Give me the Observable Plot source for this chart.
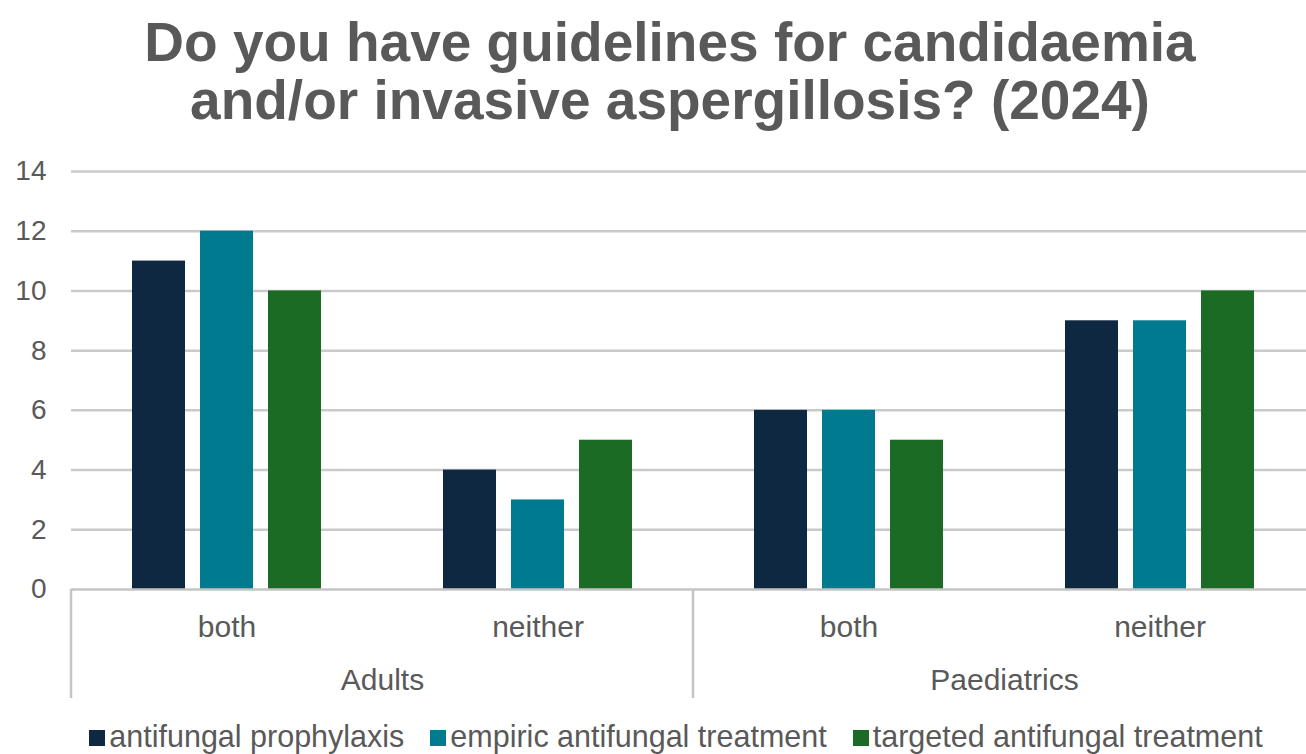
<!DOCTYPE html>
<html>
<head>
<meta charset="utf-8">
<script src="https://cdn.jsdelivr.net/npm/d3@7"></script>
<script src="https://cdn.jsdelivr.net/npm/@observablehq/plot@0.6"></script>
<style>
  html, body { margin: 0; padding: 0; background: #fff; overflow: hidden; width: 1306px; height: 754px; }
  body { font-family: "Liberation Sans", Arial, sans-serif; color: #595959; }
  #title { box-sizing: border-box; width: 1306px; height: 125px; padding-top: 13px; padding-left: 34px; font-weight: bold; font-size: 55px; line-height: 58px; text-align: center; color: #595959; white-space: nowrap; }
  #chart { width: 1306px; height: 587px; overflow: visible; }
  #chart svg { display: block; overflow: visible; max-width: none !important; }
  #legend { box-sizing: border-box; width: 1306px; padding-left: 46px; padding-top: 8px; display: flex; justify-content: center; font-size: 30.5px; line-height: 32px; white-space: nowrap; }
  .item { display: flex; align-items: center; margin: 0 13px; }
  .sw { width: 16px; height: 16px; margin-right: 4px; margin-top: 3px; }
</style>
</head>
<body>
<div id="title">Do you have guidelines for candidaemia<br>and/or invasive aspergillosis? (2024)</div>
<div id="chart"></div>
<div id="legend"></div>
<script>
const groups = ["Adults", "Paediatrics"];
const subcats = ["both", "neither"];
const series = ["antifungal prophylaxis", "empiric antifungal treatment", "targeted antifungal treatment"];
const colors = ["#0f2841", "#007a8f", "#1c6b24"];
// values in order: Adults-both, Adults-neither, Paediatrics-both, Paediatrics-neither
const prophylaxis = [11, 4, 6, 9];
const empiric = [12, 3, 6, 9];
const targeted = [10, 5, 5, 10];
const yTicks = [0, 2, 4, 6, 8, 10, 12, 14];

const seriesValues = [prophylaxis, empiric, targeted];
const cats = [];
groups.forEach(g => subcats.forEach(s => cats.push({group: g, sub: s, key: g + "|" + s})));
const keys = cats.map(c => c.key);
const rows = [];
cats.forEach((c, i) => series.forEach((s, j) => rows.push({key: c.key, series: s, value: seriesValues[j][i]})));
const groupLabels = groups.map(g => ({group: g, key: g + "|" + subcats[1]}));

const font = '"Liberation Sans", Arial, sans-serif';
const chart = Plot.plot({
  width: 1316,
  height: 587,
  marginLeft: 70,
  marginRight: 0,
  marginTop: 46,
  marginBottom: 123,
  style: {fontFamily: font, fontSize: "28px", color: "#595959", background: "#fff", overflow: "visible"},
  fx: {domain: keys, padding: 0, axis: null},
  x: {domain: series, paddingInner: 0.22, paddingOuter: 0.866, axis: null},
  y: {domain: [0, 14], ticks: yTicks, tickSize: 0, tickPadding: 25, label: null},
  color: {domain: series, range: colors},
  marks: [
    Plot.ruleY(yTicks.filter(d => d > 0), {stroke: "#cacaca", strokeWidth: 2.5}),
    Plot.barY(rows, {fx: "key", x: "series", y: "value", fill: "series"}),
    Plot.ruleY([0], {stroke: "#c4c4c4", strokeWidth: 2.5}),
    Plot.text(cats, {fx: "key", text: "sub", frameAnchor: "bottom", textAnchor: "middle", lineAnchor: "middle", dy: 38, fontSize: 30, fill: "#595959"}),
    Plot.text(groupLabels, {fx: "key", text: "group", frameAnchor: "bottom-left", textAnchor: "middle", lineAnchor: "middle", dy: 91, fontSize: 30, fill: "#595959"})
  ]
});

// category-axis separators, placed through the plot's own scales
const fxs = chart.scale("fx");
const ys = chart.scale("y");
const y0 = ys.apply(0);
const sepX = groups.map(g => fxs.apply(g + "|" + subcats[0]));
sepX.push(fxs.apply(keys[keys.length - 1]) + fxs.bandwidth);
const svg = d3.select(chart);
svg.style("max-width", "none");
svg.append("g").selectAll("line").data(sepX).join("line")
  .attr("x1", d => d).attr("x2", d => d)
  .attr("y1", y0).attr("y2", y0 + 109)
  .attr("stroke", "#c4c4c4").attr("stroke-width", 2.5);

document.getElementById("chart").appendChild(chart);

const legend = d3.select("#legend");
series.forEach((s, i) => {
  const it = legend.append("div").attr("class", "item");
  it.append("div").attr("class", "sw").style("background", colors[i]);
  it.append("span").text(s);
});
</script>
</body>
</html>
